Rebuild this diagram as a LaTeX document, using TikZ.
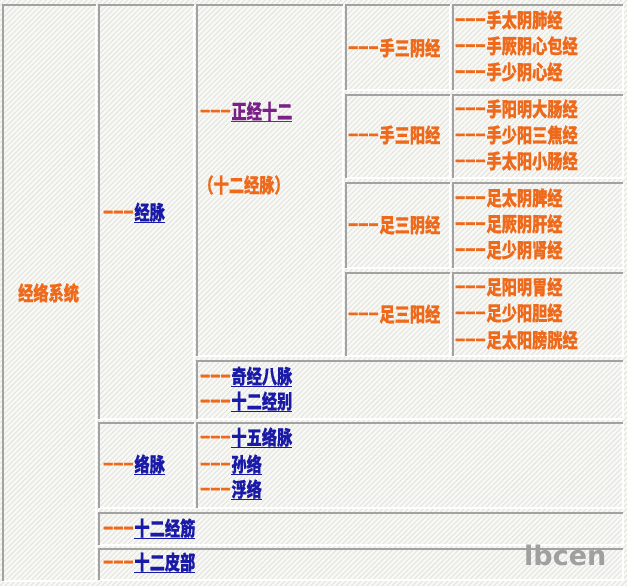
\documentclass[tikz,border=0pt]{standalone}
\usepackage{fontspec}
\usepackage{graphicx}
\usetikzlibrary{patterns.meta}
\newfontfamily\cjk{Noto Sans CJK SC}[BoldFeatures={FakeBold=0.6}]
\newfontfamily\wmfont{DejaVu Sans}
\definecolor{tor}{HTML}{EE6A1A}
\definecolor{tblue}{HTML}{1A1AA8}
\definecolor{tpurple}{HTML}{7B2088}
\definecolor{bgc}{HTML}{F8F8F5}
\definecolor{stripe}{HTML}{E2E2DE}
\definecolor{bdark}{HTML}{A2A2A0}
\definecolor{blight}{HTML}{FFFFFF}
\definecolor{wmgray}{HTML}{A0A0A0}
\newcommand\dsh{{\color{tor}\raisebox{0.1em}{\scalebox{2.05}[1]{-\kern-0.9pt-\kern-0.9pt-}}}}
\newcommand\myul[1]{\leavevmode\setbox0=\hbox{#1}\rlap{\rule[-\dimexpr\dp0+1.3pt\relax]{\wd0}{1.2pt}}\box0}
\newcommand\lk[2]{{\color{#1}\myul{#2}}}
\newcommand\tx[1]{\scalebox{0.95}[1.25]{#1}}
\newcommand\cellbox[4]{%
  \draw[blight, line width=1.2pt] (#3,#2) -- (#3,#4) -- (#1,#4);
  \draw[bdark, line width=1.5pt] (#1,#4) -- (#1,#2) -- (#3,#2);}
\tikzset{
  lbl/.style={anchor=west, inner sep=0pt, font=\cjk\bfseries\fontsize{16}{16}\selectfont, text=tor},
}
\begin{document}
\begin{tikzpicture}[x=1pt,y=-1pt]
\useasboundingbox (0,0) rectangle (627,586);
\fill[bgc] (0,0) rectangle (627,586);
\fill[pattern={Lines[angle=45,distance=3.6pt,line width=0.9pt]}, pattern color=stripe] (0,0) rectangle (627,586);
% cells
\cellbox{3}{5}{96}{581}
\cellbox{99}{5}{194}{419}
\cellbox{197}{5}{343}{356}
\cellbox{346}{5}{450}{90}
\cellbox{453}{5}{623}{90}
\cellbox{346}{95}{450}{178}
\cellbox{453}{95}{623}{178}
\cellbox{346}{183}{450}{268}
\cellbox{453}{183}{623}{268}
\cellbox{346}{273}{450}{356}
\cellbox{453}{273}{623}{356}
\cellbox{197}{361}{623}{419}
\cellbox{99}{423}{194}{508}
\cellbox{197}{423}{623}{508}
\cellbox{99}{513}{623}{545}
\cellbox{99}{549}{623}{580}
% texts
\node[lbl] (root) at (18,293) {\tx{经络系统}};
\node[lbl] (jm) at (102,213) {\tx{\dsh\lk{tblue}{经脉}}};
\node[lbl] (zj) at (199,112) {\tx{\dsh\lk{tpurple}{正经十二}}};
\node[lbl, anchor=center] (sejm) at (244,185) {\tx{（十二经脉）}};
\node[lbl] (ssy) at (347,48) {\tx{\dsh 手三阴经}};
\node[lbl] (ssyang) at (347,135) {\tx{\dsh 手三阳经}};
\node[lbl] (zsy) at (347,225) {\tx{\dsh 足三阴经}};
\node[lbl] (zsyang) at (347,314) {\tx{\dsh 足三阳经}};
\node[lbl] (a1) at (454,20) {\tx{\dsh 手太阴肺经}};
\node[lbl] (a2) at (454,46) {\tx{\dsh 手厥阴心包经}};
\node[lbl] (a3) at (454,72) {\tx{\dsh 手少阴心经}};
\node[lbl] (b1) at (454,109) {\tx{\dsh 手阳明大肠经}};
\node[lbl] (b2) at (454,135) {\tx{\dsh 手少阳三焦经}};
\node[lbl] (b3) at (454,161) {\tx{\dsh 手太阳小肠经}};
\node[lbl] (c1) at (454,198) {\tx{\dsh 足太阴脾经}};
\node[lbl] (c2) at (454,224) {\tx{\dsh 足厥阴肝经}};
\node[lbl] (c3) at (454,250) {\tx{\dsh 足少阴肾经}};
\node[lbl] (d1) at (454,287) {\tx{\dsh 足阳明胃经}};
\node[lbl] (d2) at (454,313) {\tx{\dsh 足少阳胆经}};
\node[lbl] (d3) at (454,340) {\tx{\dsh 足太阳膀胱经}};
\node[lbl] (qj) at (199,377) {\tx{\dsh\lk{tblue}{奇经八脉}}};
\node[lbl] (sejb) at (199,402) {\tx{\dsh\lk{tblue}{十二经别}}};
\node[lbl] (lm) at (102,465) {\tx{\dsh\lk{tblue}{络脉}}};
\node[lbl] (swlm) at (199,438) {\tx{\dsh\lk{tblue}{十五络脉}}};
\node[lbl] (sl) at (199,465) {\tx{\dsh\lk{tblue}{孙络}}};
\node[lbl] (fl) at (199,490) {\tx{\dsh\lk{tblue}{浮络}}};
\node[lbl] (sejj) at (102,529) {\tx{\dsh\lk{tblue}{十二经筋}}};
\node[lbl] (sepb) at (102,563) {\tx{\dsh\lk{tblue}{十二皮部}}};
\node[anchor=base west, inner sep=0pt, text=wmgray, font=\wmfont\bfseries\fontsize{27}{27}\selectfont] (wm) at (524,565) {lbcen};
\end{tikzpicture}
\end{document}
